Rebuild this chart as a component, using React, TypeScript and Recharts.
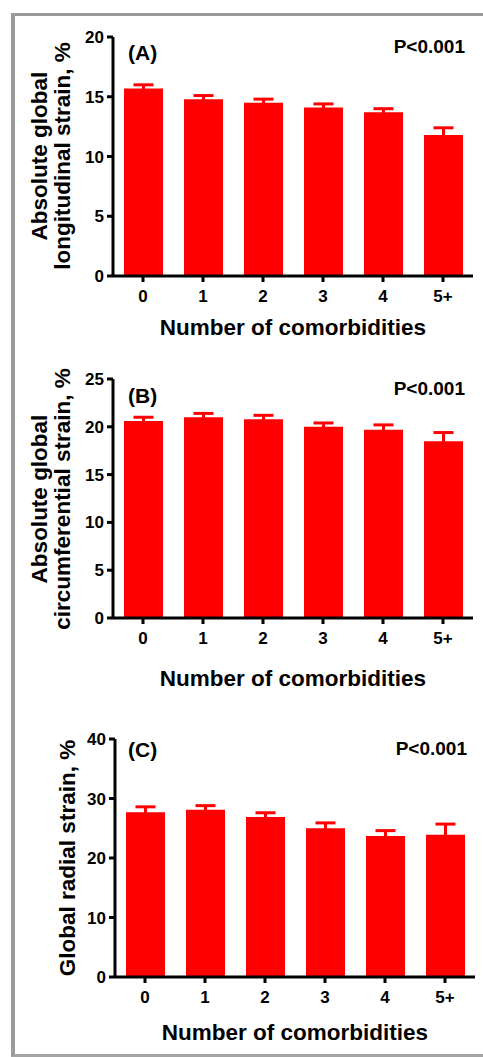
import React from 'react';
import { BarChart, Bar, XAxis, YAxis, ErrorBar } from 'recharts';

const categories = ['0', '1', '2', '3', '4', '5+'];

const glsMean = [15.7, 14.8, 14.5, 14.1, 13.7, 11.8];
const glsErr = [0.3, 0.3, 0.3, 0.3, 0.3, 0.6];
const glsTicks = [0, 5, 10, 15, 20];

const gcsMean = [20.6, 21.0, 20.8, 20.0, 19.7, 18.5];
const gcsErr = [0.4, 0.4, 0.4, 0.4, 0.5, 0.9];
const gcsTicks = [0, 5, 10, 15, 20, 25];

const grsMean = [27.7, 28.1, 26.9, 25.0, 23.7, 23.9];
const grsErr = [0.9, 0.7, 0.7, 0.9, 0.9, 1.8];
const grsTicks = [0, 10, 20, 30, 40];

const xTitle = 'Number of comorbidities';
const pText = 'P<0.001';

const FONT = '"Liberation Sans", Arial, Helvetica, sans-serif';
const RED = '#ff0000';

function build(means: number[], errs: number[]) {
  return categories.map((c, i) => ({ cat: c, v: means[i], e: errs[i] }));
}

type PanelProps = {
  top: number;
  height: number;
  yWidth: number;
  right: number;
  means: number[];
  errs: number[];
  ticks: number[];
};

function Panel({ top, height, yWidth, right, means, errs, ticks }: PanelProps) {
  const data = build(means, errs);
  const tickStyle = { fill: '#000', fontSize: 17, fontWeight: 700, fontFamily: FONT };
  return (
    <div style={{ position: 'absolute', left: 0, top, width: 483, height }}>
      <BarChart
        width={483}
        height={height}
        data={data}
        margin={{ top: 37, right, bottom: 0, left: 0 }}
        barSize={39}
      >
        <XAxis
          dataKey="cat"
          height={64}
          axisLine={{ stroke: '#000', strokeWidth: 3 }}
          tickLine={{ stroke: '#000', strokeWidth: 3 }}
          tickSize={6}
          tickMargin={8}
          tick={tickStyle}
          interval={0}
        />
        <YAxis
          width={yWidth}
          domain={[ticks[0], ticks[ticks.length - 1]]}
          ticks={ticks}
          interval={0}
          allowDataOverflow
          axisLine={{ stroke: '#000', strokeWidth: 3 }}
          tickLine={{ stroke: '#000', strokeWidth: 3 }}
          tickSize={6}
          tickMargin={3}
          tick={tickStyle}
        />
        <Bar dataKey="v" fill={RED} isAnimationActive={false}>
          <ErrorBar dataKey="e" direction="y" width={10} stroke={RED} strokeWidth={3} isAnimationActive={false} />
        </Bar>
      </BarChart>
    </div>
  );
}

const textBase: React.CSSProperties = {
  position: 'absolute',
  fontFamily: FONT,
  fontWeight: 700,
  color: '#000',
  whiteSpace: 'nowrap',
  lineHeight: 1,
};

function YTitle({ x, y, lines }: { x: number; y: number; lines: string[] }) {
  return (
    <div
      style={{
        ...textBase,
        left: x,
        top: y,
        fontSize: 22.5,
        lineHeight: '23px',
        textAlign: 'center',
        transform: 'translate(-50%, -50%) rotate(-90deg)',
      }}
    >
      {lines.map((l, i) => (
        <div key={i}>{l}</div>
      ))}
    </div>
  );
}

function XTitle({ x, y }: { x: number; y: number }) {
  return (
    <div style={{ ...textBase, left: x, top: y, fontSize: 22.5, transform: 'translate(-50%, -50%)' }}>{xTitle}</div>
  );
}

function Tag({ y, text }: { y: number; text: string }) {
  return (
    <div style={{ ...textBase, left: 128, top: y, fontSize: 21, transform: 'translateY(-50%)' }}>{text}</div>
  );
}

function PVal({ y, right }: { y: number; right: number }) {
  return (
    <div style={{ ...textBase, left: right, top: y, fontSize: 19, transform: 'translate(-100%, -50%)' }}>{pText}</div>
  );
}

export default function App() {
  return (
    <div
      style={{
        position: 'absolute',
        left: 0,
        top: 0,
        width: 483,
        height: 1057,
        overflow: 'hidden',
        background: '#fff',
      }}
    >
      <div
        style={{
          position: 'absolute',
          left: 11,
          top: 13,
          width: 500,
          height: 1044,
          boxSizing: 'border-box',
          borderLeft: '4px solid #9a9a9a',
          borderTop: '3px solid #9a9a9a',
          borderBottom: '3px solid #a4a4a4',
        }}
      />
      <Panel top={0} height={340} yWidth={113} right={10} means={glsMean} errs={glsErr} ticks={glsTicks} />
      <Panel top={342} height={340} yWidth={113} right={10} means={gcsMean} errs={gcsErr} ticks={gcsTicks} />
      <Panel top={702} height={339} yWidth={115} right={8} means={grsMean} errs={grsErr} ticks={grsTicks} />

      <YTitle x={51} y={156} lines={['Absolute global', 'longitudinal strain, %']} />
      <YTitle x={51} y={499} lines={['Absolute global', 'circumferential strain, %']} />
      <YTitle x={67} y={858} lines={['Global radial strain, %']} />

      <XTitle x={293} y={328} />
      <XTitle x={293} y={679} />
      <XTitle x={295} y={1033} />

      <Tag y={52} text="(A)" />
      <Tag y={395} text="(B)" />
      <Tag y={749} text="(C)" />

      <PVal y={46} right={465} />
      <PVal y={388} right={465} />
      <PVal y={748} right={467} />
    </div>
  );
}
